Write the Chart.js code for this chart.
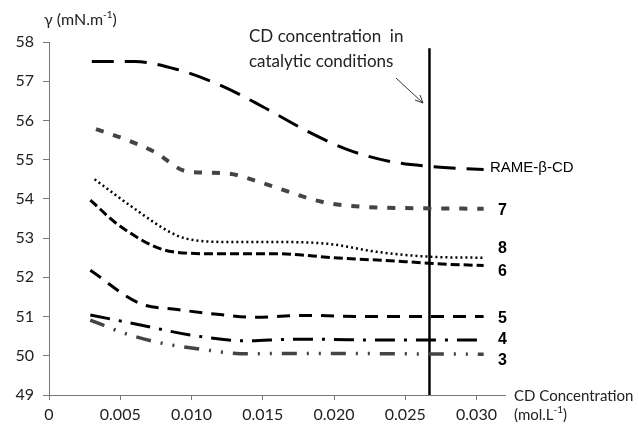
<!DOCTYPE html>
<html>
<head>
<meta charset="utf-8">
<script src="https://cdn.jsdelivr.net/npm/chart.js@4"></script>
<style>
  html, body { margin: 0; padding: 0; background: #fff; }
  #wrap { width: 639px; height: 425px; position: relative; }
</style>
</head>
<body>
<div id="wrap"><canvas id="cd-plot"></canvas></div>
<script>
// surface tension vs CD concentration
const xTicks = [0, 0.005, 0.010, 0.015, 0.020, 0.025, 0.030];
const xTickLabels = ['0', '0.005', '0.010', '0.015', '0.020', '0.025', '0.030'];
const yTicks = [49, 50, 51, 52, 53, 54, 55, 56, 57, 58];

const rameX = [0.003, 0.006, 0.009, 0.012, 0.015, 0.018, 0.021, 0.024, 0.027, 0.0305];
const rameY = [57.5, 57.5, 57.3, 56.9, 56.35, 55.75, 55.25, 54.95, 54.82, 54.75];

const s7X = [0.0033, 0.0055, 0.0074, 0.0097, 0.0125, 0.015, 0.0192, 0.022, 0.026, 0.0305];
const s7Y = [55.78, 55.5, 55.2, 54.7, 54.65, 54.4, 53.92, 53.8, 53.76, 53.75];

const s8X = [0.0032, 0.006, 0.0085, 0.0097, 0.013, 0.0165, 0.0197, 0.023, 0.027, 0.0305];
const s8Y = [54.5, 53.75, 53.15, 52.98, 52.9, 52.9, 52.85, 52.65, 52.52, 52.5];

const s6X = [0.0029, 0.005, 0.0087, 0.012, 0.016, 0.020, 0.025, 0.027, 0.0305];
const s6Y = [53.97, 53.3, 52.65, 52.6, 52.6, 52.5, 52.4, 52.35, 52.3];

const s5X = [0.0029, 0.0064, 0.009, 0.012, 0.0145, 0.018, 0.022, 0.027, 0.0305];
const s5Y = [52.18, 51.33, 51.18, 51.05, 50.98, 51.03, 51.0, 51.0, 51.0];

const s4X = [0.0029, 0.0065, 0.0099, 0.0139, 0.017, 0.019, 0.023, 0.027, 0.0305];
const s4Y = [51.04, 50.78, 50.53, 50.38, 50.42, 50.42, 50.4, 50.4, 50.4];

const s3X = [0.0029, 0.0055, 0.0078, 0.0106, 0.0139, 0.017, 0.020, 0.025, 0.0305];
const s3Y = [50.91, 50.55, 50.33, 50.17, 50.05, 50.06, 50.06, 50.05, 50.04];

const cdLineX = 0.0267;

function pts(xs, ys) { return xs.map((x, i) => ({x: x, y: ys[i]})); }

function line(data, color, width, dash) {
  return {
    data: data, borderColor: color, borderWidth: width, borderDash: dash,
    pointRadius: 0, fill: false, tension: 0.4, cubicInterpolationMode: 'monotone'
  };
}

const datasets = [
  line(pts(rameX, rameY), '#000', 3, [22, 11]),
  line(pts(s7X, s7Y), '#444', 4, [8, 10]),
  line(pts(s7X, s7Y), '#aaa', 1.6, [8, 10]),
  line(pts(s8X, s8Y), '#000', 2.5, [2, 3]),
  line(pts(s6X, s6Y), '#000', 3, [9, 4]),
  line(pts(s5X, s5Y), '#000', 3, [13, 9]),
  line(pts(s4X, s4Y), '#000', 3, [20, 9, 3, 9]),
  line(pts(s3X, s3Y), '#444', 3.5, [15, 10, 2, 10, 2, 10]),
  line(pts(s3X, s3Y), '#aaa', 1.4, [15, 10, 2, 10, 2, 10]),
  line([{x: cdLineX, y: 49}, {x: cdLineX, y: 57.84}], '#000', 2.5, [])
];

// right-hand labels: [text, y in data units, bold]
const seriesLabels = [
  ['RAME-\u03b2-CD', 54.78, false],
  ['7', 53.7, true],
  ['8', 52.72, true],
  ['6', 52.14, true],
  ['5', 50.95, true],
  ['4', 50.4, true],
  ['3', 49.87, true]
];

const textPlugin = {
  id: 'texts',
  afterDraw(chart) {
    const ctx = chart.ctx;
    const ys = chart.scales.y;
    ctx.save();
    ctx.fillStyle = '#000';
    ctx.textBaseline = 'middle';
    ctx.textAlign = 'left';
    seriesLabels.forEach(l => {
      ctx.font = (l[2] ? 'bold 16px' : '15px') + ' "Liberation Sans", Arial, sans-serif';
      ctx.fillText(l[0], l[2] ? 498 : 490, ys.getPixelForValue(l[1]));
    });
    ctx.fillStyle = '#222';
    ctx.font = '17px Lato, "Open Sans", sans-serif';
    ctx.fillText('CD concentration  in', 249, 37);
    ctx.fillText('catalytic conditions', 249, 62);
    ctx.font = '16px Lato, "Open Sans", sans-serif';
    ctx.fillText('\u03b3 (mN.m', 44, 20);
    let w = ctx.measureText('\u03b3 (mN.m').width;
    ctx.font = '10px Lato, "Open Sans", sans-serif';
    ctx.fillText('-1', 44 + w, 15);
    let w2 = ctx.measureText('-1').width;
    ctx.font = '16px Lato, "Open Sans", sans-serif';
    ctx.fillText(')', 44 + w + w2, 20);
    ctx.font = '15px Lato, "Open Sans", sans-serif';
    ctx.fillText('CD Concentration', 514, 396);
    ctx.fillText('(mol.L', 514, 415);
    w = ctx.measureText('(mol.L').width;
    ctx.font = '10px Lato, "Open Sans", sans-serif';
    ctx.fillText('-1', 514 + w, 410);
    w2 = ctx.measureText('-1').width;
    ctx.font = '15px Lato, "Open Sans", sans-serif';
    ctx.fillText(')', 514 + w + w2, 415);
    // arrow
    ctx.strokeStyle = '#333';
    ctx.lineWidth = 1;
    ctx.beginPath();
    ctx.moveTo(396, 78);
    ctx.lineTo(423, 103);
    ctx.moveTo(423, 103);
    ctx.lineTo(415, 100);
    ctx.moveTo(423, 103);
    ctx.lineTo(420, 95);
    ctx.stroke();
    ctx.restore();
  }
};

new Chart('cd-plot', {
  type: 'line',
  data: { datasets: datasets },
  plugins: [textPlugin],
  options: {
    responsive: true,
    maintainAspectRatio: false,
    animation: false,
    layout: { padding: { top: 42, right: 134, left: 0, bottom: 0 } },
    plugins: { legend: { display: false }, tooltip: { enabled: false } },
    scales: {
      x: {
        type: 'linear', min: 0, max: 0.032,
        afterBuildTicks: s => { s.ticks = xTicks.map(v => ({value: v})); },
        afterFit: s => { s.height = 30; },
        ticks: {
          autoSkip: false, maxRotation: 0, padding: 5,
          color: '#222', font: { family: 'Lato', size: 16 },
          callback: (v, i) => xTickLabels[i]
        },
        grid: { drawOnChartArea: false, tickLength: 5, color: '#777' },
        border: { color: '#777', width: 1 }
      },
      y: {
        min: 49, max: 58,
        afterBuildTicks: s => { s.ticks = yTicks.map(v => ({value: v})); },
        afterFit: s => { s.width = 49; },
        ticks: {
          padding: 9, color: '#222', font: { family: 'Lato', size: 16 }
        },
        grid: { drawOnChartArea: false, tickLength: 6, color: '#777' },
        border: { color: '#777', width: 1 }
      }
    }
  }
});
</script>
</body>
</html>
